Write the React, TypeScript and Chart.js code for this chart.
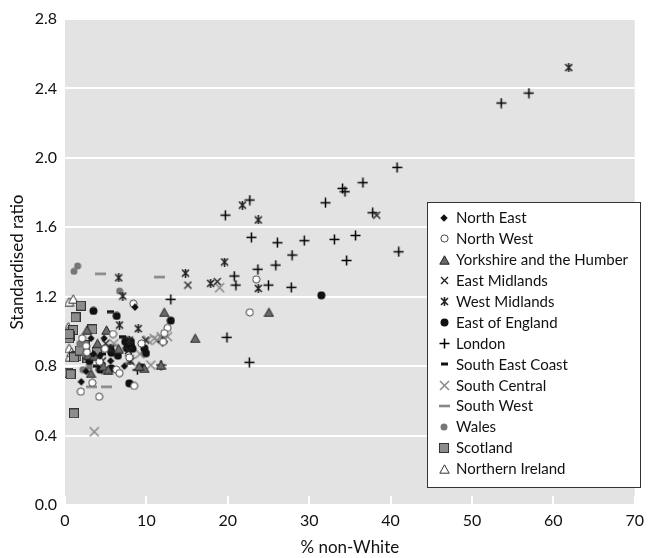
import React, { useEffect, useRef } from "react";
import { Chart, registerables } from "chart.js";

Chart.register(...registerables);

// ---- data: [% non-White, standardised ratio] ----
const northEast: [number, number][] = [
  [8.6, 1.14], [3.2, 0.96], [4.8, 0.96], [2.0, 0.71], [2.6, 0.77], [4.3, 0.86], [5.6, 0.83], [7.3, 0.8], [3.5, 0.87],
];
const northWest: [number, number][] = [
  [23.5, 1.3], [22.7, 1.11], [12.6, 1.02], [12.05, 0.94], [8.4, 1.16], [2.1, 0.96], [5.9, 0.985], [2.6, 0.916],
  [4.25, 0.826], [6.3, 0.78], [6.7, 0.76], [3.35, 0.704], [8.5, 0.686], [1.95, 0.653], [4.2, 0.624], [12.2, 0.99],
  [2.7, 0.88], [4.9, 0.9], [9.4, 0.93], [7.9, 0.85],
];
const yorkshire: [number, number][] = [
  [12.2, 1.11], [25.05, 1.11], [16.0, 0.96], [11.8, 0.806], [5.1, 1.008], [2.7, 1.008], [4.0, 0.931], [2.85, 0.864],
  [9.75, 0.787], [3.2, 0.758], [4.7, 0.8], [5.3, 0.78], [9.1, 0.8], [6.6, 0.9], [3.6, 0.86],
];
const eastMidlands: [number, number][] = [
  [38.3, 1.67], [15.1, 1.267], [18.7, 1.287], [7.8, 0.89], [5.0, 0.93], [9.9, 0.95], [4.6, 0.83],
];
const westMidlands: [number, number][] = [
  [61.9, 2.52], [21.8, 1.728], [23.75, 1.642], [19.6, 1.4], [14.8, 1.336], [17.9, 1.277], [23.75, 1.248], [6.6, 1.309],
  [7.1, 1.204], [6.7, 1.037], [9.0, 1.016], [8.0, 0.83], [5.6, 0.9], [7.9, 0.95],
];
const eastOfEngland: [number, number][] = [
  [31.5, 1.208], [13.0, 1.062], [3.5, 1.118], [6.35, 1.089], [7.4, 0.941], [8.1, 0.941], [5.6, 0.897], [5.7, 0.877],
  [7.6, 0.903], [9.75, 0.903], [9.95, 0.874], [9.4, 0.793], [5.7, 0.787], [7.9, 0.701], [4.3, 0.78], [6.5, 0.86],
  [3.0, 0.83], [8.3, 0.9],
];
const london: [number, number][] = [
  [57.0, 2.373], [53.6, 2.316], [40.8, 1.945], [36.6, 1.857], [34.1, 1.824], [34.4, 1.805], [32.0, 1.741], [37.8, 1.684],
  [22.7, 1.757], [19.7, 1.67], [22.9, 1.542], [26.1, 1.511], [29.4, 1.523], [33.1, 1.53], [35.7, 1.553], [41.0, 1.459],
  [34.6, 1.409], [27.9, 1.44], [25.9, 1.382], [23.7, 1.358], [20.8, 1.319], [21.0, 1.267], [25.0, 1.267], [27.8, 1.254],
  [13.0, 1.185], [12.0, 0.941], [19.9, 0.966], [22.65, 0.822], [11.8, 0.806], [8.9, 0.778],
];
const southEastCoast: [number, number][] = [
  [5.55, 1.114], [7.1, 0.97], [4.6, 0.87], [8.2, 0.92], [3.9, 0.8],
];
const southCentral: [number, number][] = [
  [19.0, 1.252], [12.6, 0.97], [12.0, 0.955], [10.15, 0.95], [10.96, 0.96], [11.8, 0.97], [10.55, 0.806], [7.9, 0.839],
  [8.1, 0.826], [3.6, 0.422], [9.2, 0.87], [6.0, 0.93], [11.3, 0.95],
];
const southWest: [number, number][] = [
  [4.4, 1.332], [11.6, 1.313], [7.3, 0.966], [5.1, 0.758], [3.3, 0.681], [5.1, 0.681], [6.0, 0.92], [4.0, 0.85],
];
const wales: [number, number][] = [
  [1.55, 1.377], [1.1, 1.346], [6.7, 1.233], [2.5, 0.87], [1.8, 0.93], [3.0, 0.8], [2.2, 0.78],
];
const scotland: [number, number][] = [
  [1.95, 1.148], [1.3, 1.081], [1.0, 1.008], [0.6, 0.973], [0.5, 0.96], [3.35, 1.012], [0.5, 0.985], [1.4, 0.858],
  [1.1, 0.851], [2.75, 0.845], [0.4, 0.762], [0.7, 0.753], [1.1, 0.528], [2.4, 0.92], [3.9, 0.88], [1.8, 0.89],
];
const northernIreland: [number, number][] = [
  [0.5, 1.171], [1.0, 1.187], [0.4, 1.027], [0.5, 0.903], [0.6, 0.854], [0.8, 0.88], [0.3, 1.0],
];

const seriesNames = [
  "North East", "North West", "Yorkshire and the Humber", "East Midlands", "West Midlands", "East of England",
  "London", "South East Coast", "South Central", "South West", "Wales", "Scotland", "Northern Ireland",
];
const seriesData = [
  northEast, northWest, yorkshire, eastMidlands, westMidlands, eastOfEngland, london, southEastCoast,
  southCentral, southWest, wales, scotland, northernIreland,
];
const xTicks = [0, 10, 20, 30, 40, 50, 60, 70];
const yTicks = [0, 0.4, 0.8, 1.2, 1.6, 2.0, 2.4, 2.8];

const FONT = "Lato, 'Open Sans', sans-serif";

type Draw = (g: CanvasRenderingContext2D, w: number, h: number) => void;
function mk(w: number, h: number, draw: Draw): HTMLCanvasElement {
  const c = document.createElement("canvas");
  c.width = w;
  c.height = h;
  const g = c.getContext("2d")!;
  draw(g, w, h);
  return c;
}

function makeMarkers(): HTMLCanvasElement[] {
  const circle = (r: number, fill: string, stroke?: string): Draw => (g, w, h) => {
    g.beginPath();
    g.arc(w / 2, h / 2, r, 0, Math.PI * 2);
    g.fillStyle = fill;
    g.fill();
    if (stroke) {
      g.strokeStyle = stroke;
      g.lineWidth = 1;
      g.stroke();
    }
  };
  const tri = (fill: string, stroke: string): Draw => (g, w, h) => {
    g.beginPath();
    g.moveTo(w / 2, 0.8);
    g.lineTo(w - 0.8, h - 0.8);
    g.lineTo(0.8, h - 0.8);
    g.closePath();
    g.fillStyle = fill;
    g.fill();
    g.strokeStyle = stroke;
    g.lineWidth = 1;
    g.stroke();
  };
  const xMark = (color: string, lw: number, vertical = false): Draw => (g, w, h) => {
    g.strokeStyle = color;
    g.lineWidth = lw;
    g.beginPath();
    g.moveTo(1, 1);
    g.lineTo(w - 1, h - 1);
    g.moveTo(w - 1, 1);
    g.lineTo(1, h - 1);
    if (vertical) {
      g.moveTo(w / 2, 0);
      g.lineTo(w / 2, h);
    }
    g.stroke();
  };
  return [
    mk(8, 8, (g, w, h) => {
      g.beginPath();
      g.moveTo(w / 2, 0.3);
      g.lineTo(w - 0.3, h / 2);
      g.lineTo(w / 2, h - 0.3);
      g.lineTo(0.3, h / 2);
      g.closePath();
      g.fillStyle = "#111";
      g.fill();
    }),
    mk(9, 9, circle(3.6, "#fff", "#444")),
    mk(11, 10, tri("#6a6a6a", "#222")),
    mk(9, 9, xMark("#222", 1.4)),
    mk(9, 9, xMark("#222", 1.6, true)),
    mk(9, 9, circle(4, "#111")),
    mk(11, 11, (g, w, h) => {
      g.strokeStyle = "#000";
      g.lineWidth = 1.5;
      g.beginPath();
      g.moveTo(w / 2, 0.5);
      g.lineTo(w / 2, h - 0.5);
      g.moveTo(0.5, h / 2);
      g.lineTo(w - 0.5, h / 2);
      g.stroke();
    }),
    mk(7, 4, (g) => {
      g.fillStyle = "#111";
      g.fillRect(0, 0.5, 7, 3);
    }),
    mk(11, 11, xMark("#888", 1.5)),
    mk(11, 4, (g) => {
      g.fillStyle = "#888";
      g.fillRect(0, 0.7, 11, 2.6);
    }),
    mk(8, 8, circle(3.5, "#777")),
    mk(10, 10, (g) => {
      g.fillStyle = "#8c8c8c";
      g.fillRect(0.5, 0.5, 9, 9);
      g.strokeStyle = "#333";
      g.lineWidth = 1;
      g.strokeRect(0.5, 0.5, 9, 9);
    }),
    mk(11, 10, tri("#fff", "#333")),
  ];
}

export default function App() {
  const ref = useRef<HTMLCanvasElement | null>(null);

  useEffect(() => {
    document.body.style.margin = "0";
    const canvas = ref.current;
    if (!canvas) return;
    const markers = makeMarkers();

    const bgPlugin = {
      id: "bgPlugin",
      beforeDraw(chart: any) {
        const { ctx, chartArea } = chart;
        ctx.save();
        ctx.fillStyle = "#e3e3e3";
        ctx.fillRect(chartArea.left, chartArea.top, chartArea.right - chartArea.left, chartArea.bottom - chartArea.top);
        ctx.restore();
      },
      beforeDatasetsDraw(chart: any) {
        const { ctx, chartArea } = chart;
        const xs = chart.scales.x;
        ctx.save();
        ctx.strokeStyle = "#ffffff";
        ctx.lineWidth = 2;
        for (const t of xTicks) {
          const px = Math.round(xs.getPixelForValue(t));
          ctx.beginPath();
          ctx.moveTo(px, chartArea.bottom - 9);
          ctx.lineTo(px, chartArea.bottom);
          ctx.stroke();
        }
        ctx.restore();
      },
      afterDraw(chart: any) {
        const { ctx } = chart;
        const left = 427.5, top = 202.5, right = 640.5, bottom = 487.5;
        ctx.save();
        ctx.fillStyle = "#fff";
        ctx.fillRect(left, top, right - left, bottom - top);
        ctx.strokeStyle = "#333";
        ctx.lineWidth = 1;
        ctx.strokeRect(left, top, right - left, bottom - top);
        ctx.font = `15px ${FONT}`;
        ctx.fillStyle = "#111";
        ctx.textBaseline = "middle";
        ctx.textAlign = "left";
        seriesNames.forEach((name, i) => {
          const y = 218 + i * 20.9;
          const m = markers[i];
          ctx.drawImage(m, Math.round(444 - m.width / 2), Math.round(y - m.height / 2));
          ctx.fillText(name, 456, y + 0.5);
        });
        ctx.restore();
      },
    };

    const chart = new Chart(canvas, {
      type: "scatter",
      data: {
        datasets: seriesNames.map((name, i) => ({
          label: name,
          data: seriesData[i].map(([x, y]) => ({ x, y })),
          pointStyle: markers[i] as any,
          pointRadius: 4,
          showLine: false,
        })),
      },
      options: {
        animation: false,
        responsive: false,
        maintainAspectRatio: false,
        layout: { padding: { top: 19, right: 8, left: 0, bottom: 0 } },
        plugins: {
          legend: { display: false },
          tooltip: { enabled: false },
        },
        scales: {
          x: {
            type: "linear",
            min: 0,
            max: 70,
            afterBuildTicks: (s: any) => {
              s.ticks = xTicks.map((v) => ({ value: v }));
            },
            afterFit: (s: any) => {
              s.height = 53;
            },
            grid: { display: false, drawTicks: false },
            border: { display: false },
            ticks: {
              color: "#111",
              font: { family: FONT, size: 16 },
              padding: 6,
              maxRotation: 0,
            },
            title: {
              display: true,
              text: "% non-White",
              color: "#111",
              font: { family: FONT, size: 17 },
              padding: { top: 0, bottom: 0 },
            },
          },
          y: {
            type: "linear",
            min: 0,
            max: 2.8,
            afterBuildTicks: (s: any) => {
              s.ticks = yTicks.map((v) => ({ value: v }));
            },
            afterFit: (s: any) => {
              s.width = 65;
            },
            grid: { color: "#ffffff", lineWidth: 2, drawTicks: false },
            border: { display: false },
            ticks: {
              color: "#111",
              font: { family: FONT, size: 16 },
              padding: 8,
              callback: (v: any) => Number(v).toFixed(1),
            },
            title: {
              display: true,
              text: "Standardised ratio",
              color: "#111",
              font: { family: FONT, size: 17 },
              padding: { top: 7, bottom: 0 },
            },
          },
        },
      },
      plugins: [bgPlugin],
    });

    return () => chart.destroy();
  }, []);

  return (
    <div style={{ width: 650, height: 558 }}>
      <canvas ref={ref} width={650} height={558} style={{ display: "block" }} />
    </div>
  );
}
